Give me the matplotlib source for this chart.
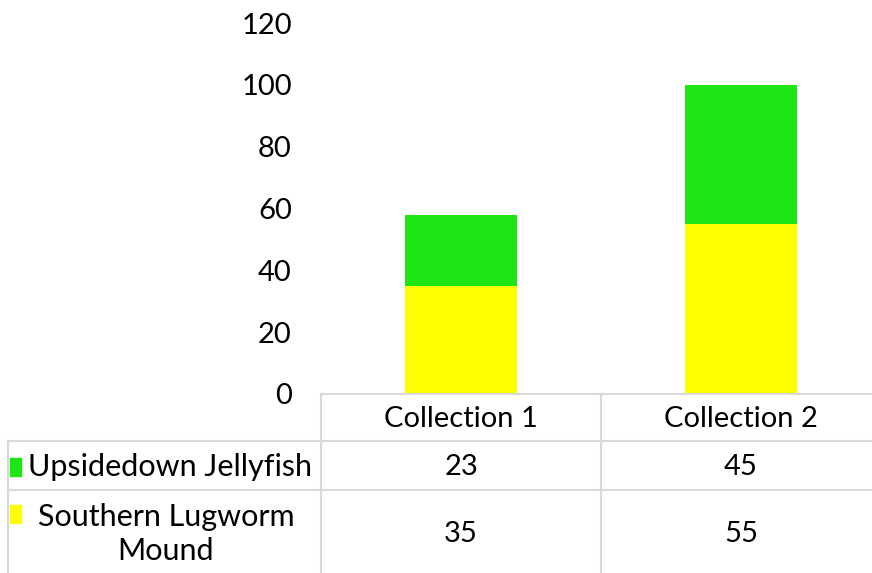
import matplotlib
matplotlib.use("Agg")
import matplotlib.pyplot as plt
from matplotlib.lines import Line2D
from matplotlib.patches import Rectangle

categories = ["Collection 1", "Collection 2"]
series_names = ["Upsidedown Jellyfish", "Southern Lugworm\nMound"]
jellyfish = [23, 45]
lugworm = [35, 55]
colors = {"jelly": "#1ee614", "lug": "#ffff00"}
yticks = [0, 20, 40, 60, 80, 100, 120]

W, H = 872, 573
plt.rcParams["font.family"] = ["Lato", "DejaVu Sans"]
fig = plt.figure(figsize=(W / 100, H / 100), dpi=100)

def fx(px):
    return px / W

def fy(py):
    return 1 - py / H

# plot area runs slightly past the right edge of the canvas
left, right, top, bottom = 321, 881, 23, 394
ax = fig.add_axes([fx(left), fy(bottom), fx(right - left), fy(top) - fy(bottom)])
x = list(range(len(categories)))
ax.bar(x, lugworm, width=0.4, color=colors["lug"], zorder=2)
ax.bar(x, jellyfish, width=0.4, bottom=lugworm, color=colors["jelly"], zorder=2)
ax.set_xlim(-0.5, len(categories) - 0.5)
ax.set_ylim(0, 120)
ax.set_yticks(yticks)
ax.set_yticklabels([str(v) for v in yticks], fontsize=21)
ax.tick_params(axis="y", length=0, pad=21)
ax.set_xticks([])
for s in ax.spines.values():
    s.set_visible(False)

grid = "#d9d9d9"
lw = 1.5

def hline(x0, x1, y):
    fig.add_artist(Line2D([fx(x0), fx(x1)], [fy(y), fy(y)], color=grid, lw=lw))

def vline(xp, y0, y1):
    fig.add_artist(Line2D([fx(xp), fx(xp)], [fy(y0), fy(y1)], color=grid, lw=lw))

# data table grid
hline(321, 872, 394)
hline(8, 872, 441)
hline(8, 872, 490)
vline(321, 394, 573)
vline(601, 394, 573)
vline(8, 441, 573)

col_centers = [461, 741]
fs = 21
for cx, cat in zip(col_centers, categories):
    fig.text(fx(cx), fy(419), cat, ha="center", va="center", fontsize=fs)
for cx, v in zip(col_centers, jellyfish):
    fig.text(fx(cx), fy(467), str(v), ha="center", va="center", fontsize=fs)
for cx, v in zip(col_centers, lugworm):
    fig.text(fx(cx), fy(534), str(v), ha="center", va="center", fontsize=fs)

# row headers with legend keys
hs = 22
fig.add_artist(Rectangle((fx(10), fy(476)), fx(11), fy(458) - fy(476),
                         color=colors["jelly"], transform=fig.transFigure))
fig.text(fx(170), fy(467), series_names[0], ha="center", va="center", fontsize=hs)
fig.add_artist(Rectangle((fx(10), fy(523)), fx(11), fy(505) - fy(523),
                         color=colors["lug"], transform=fig.transFigure))
fig.text(fx(166), fy(534), series_names[1], ha="center", va="center", fontsize=hs,
         multialignment="center", linespacing=1.25)

fig.savefig("out.png", dpi=100)
